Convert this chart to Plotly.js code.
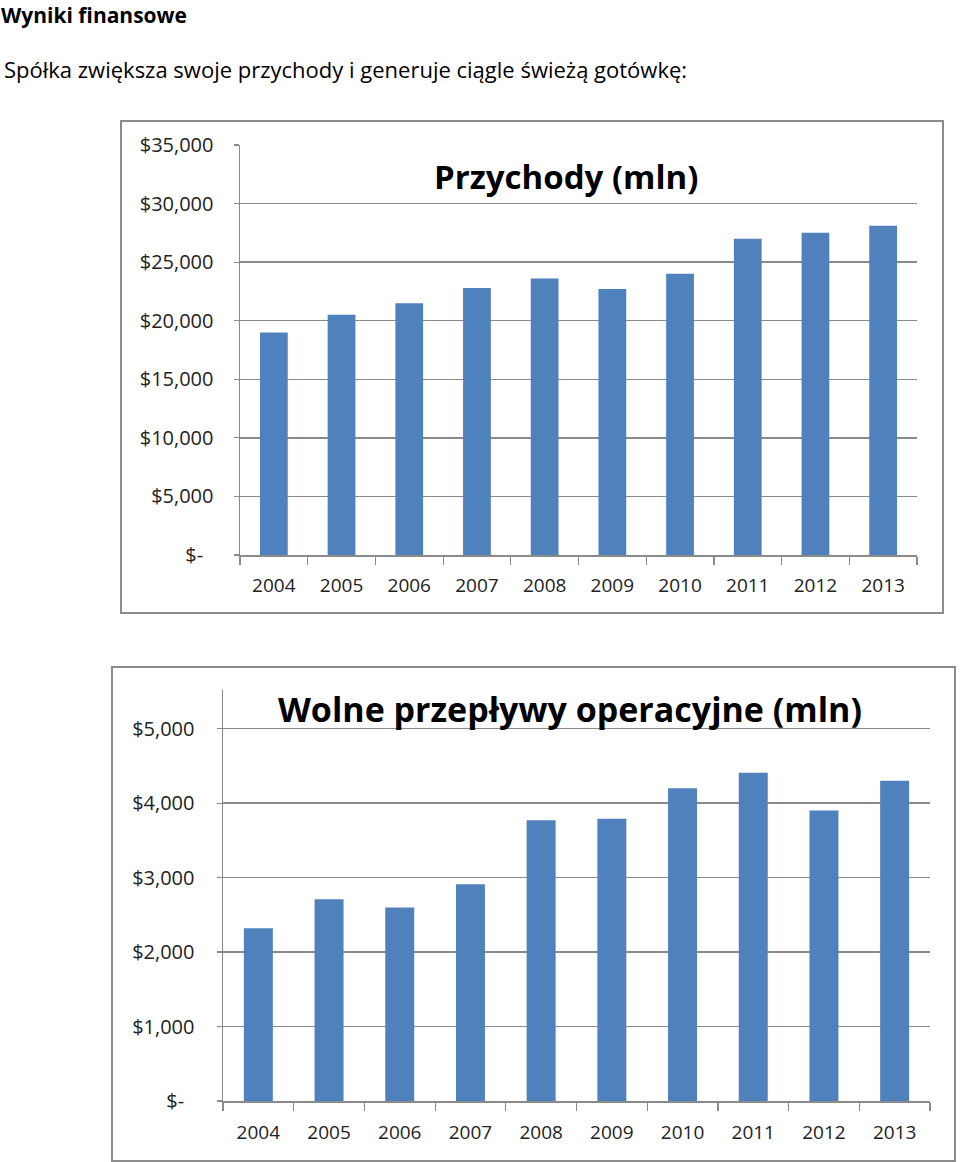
<!DOCTYPE html>
<html>
<head>
<meta charset="utf-8">
<script src="https://cdn.plot.ly/plotly-3.0.1.min.js"></script>
<style>
  html, body { margin: 0; padding: 0; background: #fff; }
  #chart { width: 960px; height: 1162px; }
</style>
</head>
<body>
<div id="chart"></div>
<script>
// ---- data ----
const years = ['2004','2005','2006','2007','2008','2009','2010','2011','2012','2013'];
const revenue = [19000, 20500, 21500, 22800, 23600, 22700, 24000, 27000, 27500, 28100];
const freeCashFlow = [2320, 2710, 2600, 2910, 3770, 3790, 4200, 4410, 3900, 4300];

const revTickVals = [0, 5000, 10000, 15000, 20000, 25000, 30000, 35000];
const revTickText = ['$-\u00a0\u00a0', '$5,000', '$10,000', '$15,000', '$20,000', '$25,000', '$30,000', '$35,000'];
const fcfTickVals = [0, 1000, 2000, 3000, 4000, 5000];
const fcfTickText = ['$-\u00a0\u00a0', '$1,000', '$2,000', '$3,000', '$4,000', '$5,000'];

const pageTitle = 'Wyniki finansowe';
const pageSubtitle = 'Spółka zwiększa swoje przychody i generuje ciągle świeżą gotówkę:';
const chart1Title = 'Przychody (mln)';
const chart2Title = 'Wolne przepływy operacyjne (mln)';

// ---- layout helpers ----
const W = 960, H = 1162;
const px = v => v / W;
const py = v => 1 - v / H;

const barColor = '#4F81BD';
const gridColor = '#8a8a8a';
const tickFont = { family: 'Open Sans, sans-serif', size: 19, color: '#222' };

const traces = [
  { type: 'bar', x: years, y: revenue, xaxis: 'x', yaxis: 'y',
    marker: { color: barColor }, hoverinfo: 'skip' },
  { type: 'bar', x: years, y: freeCashFlow, xaxis: 'x2', yaxis: 'y2',
    marker: { color: barColor }, hoverinfo: 'skip' }
];

const xCommon = {
  type: 'category', showgrid: false, zeroline: false,
  showline: true, linecolor: gridColor, linewidth: 1.5,
  ticks: 'outside', tickson: 'boundaries', ticklen: 8, tickcolor: gridColor, tickwidth: 1.2,
  tickfont: tickFont, fixedrange: true
};
const yCommon = {
  showgrid: true, gridcolor: gridColor, gridwidth: 1.5, zeroline: false,
  showline: true, linecolor: gridColor, linewidth: 1.5,
  ticks: 'outside', ticklen: 5, tickcolor: gridColor, tickwidth: 1.2,
  tickfont: Object.assign({}, tickFont, { size: 20 }), fixedrange: true
};

const layout = {
  width: W, height: H,
  margin: { l: 0, r: 0, t: 0, b: 0, pad: 0 },
  paper_bgcolor: '#fff', plot_bgcolor: 'rgba(0,0,0,0)',
  showlegend: false,
  bargap: 0.59,
  xaxis: Object.assign({}, xCommon, { domain: [px(240), px(917)], anchor: 'y', ticklabelstandoff: 13 }),
  yaxis: Object.assign({}, yCommon, { domain: [py(555), py(145)], anchor: 'x',
    range: [0, 35000], tickvals: revTickVals, ticktext: revTickText, ticklabelstandoff: 16 }),
  xaxis2: Object.assign({}, xCommon, { domain: [px(223), px(930)], anchor: 'y2', ticklabelstandoff: 14 }),
  yaxis2: Object.assign({}, yCommon, { domain: [py(1101), py(690)], anchor: 'x2',
    range: [0, 5520], tickvals: fcfTickVals, ticktext: fcfTickText, ticklabelstandoff: 18 }),
  shapes: [
    { type: 'rect', xref: 'paper', yref: 'paper', x0: px(121), x1: px(943), y0: py(613), y1: py(121),
      line: { color: '#8c8c8c', width: 2 }, fillcolor: 'rgba(0,0,0,0)', layer: 'below' },
    { type: 'rect', xref: 'paper', yref: 'paper', x0: px(112), x1: px(955), y0: py(1161), y1: py(667),
      line: { color: '#8c8c8c', width: 2 }, fillcolor: 'rgba(0,0,0,0)', layer: 'below' }
  ],
  annotations: [
    { text: '<b>' + pageTitle + '</b>', xref: 'paper', yref: 'paper', x: 0, y: 1,
      xanchor: 'left', yanchor: 'top', showarrow: false, borderpad: 0,
      font: { family: 'Open Sans, sans-serif', size: 21, color: '#000' } },
    { text: pageSubtitle, xref: 'paper', yref: 'paper', x: px(2), y: py(69),
      xanchor: 'left', yanchor: 'middle', showarrow: false,
      font: { family: 'Open Sans, sans-serif', size: 22, color: '#000' } },
    { text: '<b>' + chart1Title + '</b>', xref: 'paper', yref: 'paper', x: px(566), y: py(177),
      xanchor: 'center', yanchor: 'middle', showarrow: false,
      font: { family: 'Open Sans, sans-serif', size: 33, color: '#000' } },
    { text: '<b>' + chart2Title + '</b>', xref: 'paper', yref: 'paper', x: px(570), y: py(709),
      xanchor: 'center', yanchor: 'middle', showarrow: false,
      font: { family: 'Open Sans, sans-serif', size: 34, color: '#000' } }
  ]
};

Plotly.newPlot('chart', traces, layout, { staticPlot: true, displayModeBar: false });
</script>
</body>
</html>
